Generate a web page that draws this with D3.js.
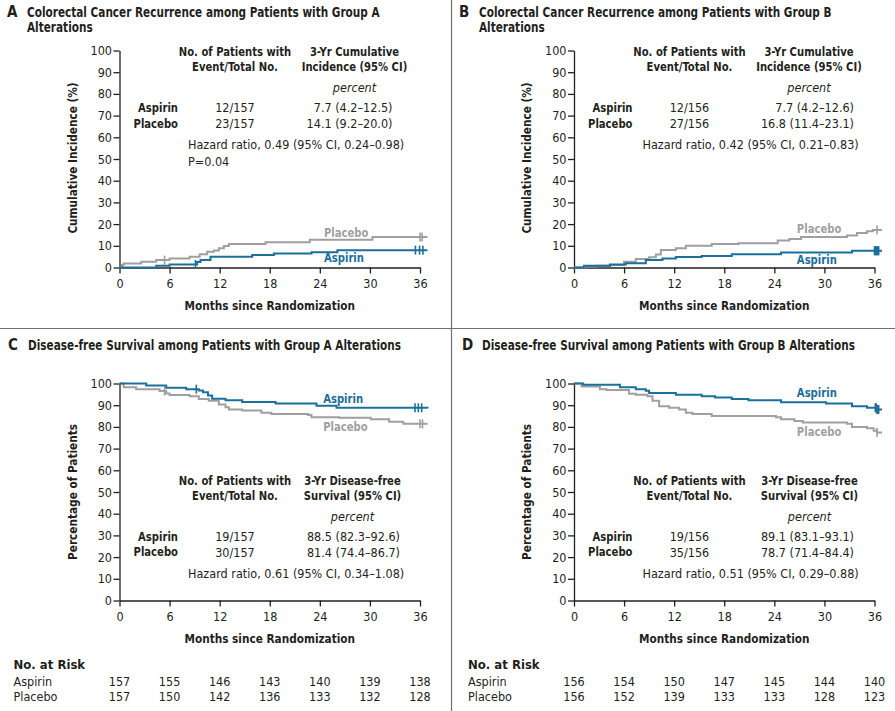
<html>
<head>
<script src="https://cdn.jsdelivr.net/npm/d3@7"></script>
<style>
  body { margin: 0; background: #fff; }
  text { font-family: "Liberation Sans Narrow", "DejaVu Sans Condensed", sans-serif; fill: #231f20; }
</style>
</head>
<body>
<script>
// ticks
var monthTicks = [0, 6, 12, 18, 24, 30, 36];
var pctTicks = [0, 10, 20, 30, 40, 50, 60, 70, 80, 90, 100];

// A: recurrence, group A  [month, cumulative incidence %]
var aPlacebo = [[0,0],[0.3,1.1],[0.5,1.9],[2.6,2.7],[4.4,3.4],[6.0,4.2],[8.4,5.0],[9.6,6.1],[10.5,7.3],[11.3,7.8],[11.9,8.9],[12.5,9.9],[13.1,10.8],[17.5,11.6],[22.8,12.8],[30.3,14.1],[36.9,14.1]];
var aAspirin = [[0,0],[4.4,0.8],[6.0,1.4],[9.3,2.5],[9.7,3.4],[10.9,5.0],[15.9,5.8],[18.5,6.4],[23.0,7.0],[26.1,8.0],[36.9,8.0]];
var aPlaceboCens = [5.4, 36.0, 36.25];
var aAspirinCens = [9.1, 35.45, 35.95, 36.35];

// B: recurrence, group B
var bPlacebo = [[0,0],[1.3,0.5],[2.7,0.8],[4.3,1.1],[6.0,2.7],[7.4,3.9],[9.0,4.7],[9.8,6.0],[10.4,8.1],[12.2,8.9],[13.4,10.0],[16.5,10.8],[19.7,11.2],[24.4,12.5],[25.8,13.1],[27.2,14.1],[32.7,14.8],[33.9,15.9],[35.1,16.7],[35.8,17.3],[36.9,17.3]];
var bAspirin = [[0,0],[1.2,0.8],[4.3,1.4],[6.2,2.0],[8.6,3.4],[10.6,4.2],[12.2,4.8],[15.3,5.3],[18.9,6.1],[24.8,6.9],[33.3,7.7],[36.9,7.7]];
var bPlaceboCens = [36.3];
var bAspirinCens = [36.0, 36.1, 36.2, 36.3, 36.4, 36.5];

// C: disease-free survival, group A  [month, % of patients]
var cAspirin = [[0,100],[3.2,99.1],[5.6,98.0],[8.0,97.4],[9.5,96.8],[10.0,96.0],[10.6,94.5],[11.1,93.0],[12.7,92.3],[14.7,91.5],[18.7,90.8],[23.6,89.7],[26.0,88.8],[36.9,88.5]];
var cPlacebo = [[0,100],[0.5,98.3],[2.0,97.4],[4.8,96.5],[5.6,95.4],[6.0,94.7],[8.4,94.1],[9.5,92.9],[10.7,92.1],[11.9,90.3],[12.7,89.0],[13.1,88.0],[14.7,87.6],[17.0,86.5],[18.2,85.9],[22.6,85.5],[23.0,84.5],[26.3,84.2],[30.1,83.5],[32.3,82.4],[34.0,81.4],[36.9,81.4]];
var cAspirinCens = [9.2, 35.4, 35.8, 36.2];
var cPlaceboCens = [5.4, 36.0, 36.3];

// D: disease-free survival, group B
var dAspirin = [[0,100],[1.1,99.4],[5.5,98.3],[7.4,97.4],[8.6,96.7],[9.0,95.6],[12.2,94.8],[15.3,94.1],[16.9,93.6],[18.9,92.9],[20.9,92.3],[24.8,91.4],[30.2,90.8],[33.3,89.5],[35.1,88.8],[36.3,88.0],[36.9,88.0]];
var dPlacebo = [[0,100],[0.9,98.6],[3.1,97.4],[3.9,97.0],[6.6,95.3],[7.4,94.8],[8.8,94.1],[9.4,92.0],[10.2,89.5],[11.4,88.8],[12.6,88.0],[13.4,86.5],[14.2,86.0],[16.5,85.0],[24.2,84.5],[24.8,83.5],[26.4,82.7],[27.4,82.0],[32.7,81.5],[33.3,80.0],[35.1,79.4],[35.9,78.2],[36.3,77.4],[36.9,77.4]];
var dAspirinCens = [36.1, 36.2, 36.3, 36.4, 36.5];
var dPlaceboCens = [36.3];

// numbers at risk
var riskCAspirin = [157, 155, 146, 143, 140, 139, 138];
var riskCPlacebo = [157, 150, 142, 136, 133, 132, 128];
var riskDAspirin = [156, 154, 150, 147, 145, 144, 140];
var riskDPlacebo = [156, 152, 139, 133, 133, 128, 123];

// inset tables
var aStats = { events: ["12/157", "23/157"], est: ["7.7 (4.2\u201312.5)", "14.1 (9.2\u201320.0)"], hr: "Hazard ratio, 0.49 (95% CI, 0.24\u20130.98)", p: "P=0.04" };
var bStats = { events: ["12/156", "27/156"], est: ["7.7 (4.2\u201312.6)", "16.8 (11.4\u201323.1)"], hr: "Hazard ratio, 0.42 (95% CI, 0.21\u20130.83)", p: null };
var cStats = { events: ["19/157", "30/157"], est: ["88.5 (82.3\u201392.6)", "81.4 (74.4\u201386.7)"], hr: "Hazard ratio, 0.61 (95% CI, 0.34\u20131.08)", p: null };
var dStats = { events: ["19/156", "35/156"], est: ["89.1 (83.1\u201393.1)", "78.7 (71.4\u201384.4)"], hr: "Hazard ratio, 0.51 (95% CI, 0.29\u20130.88)", p: null };

var blue = "#1a6f9b", grey = "#9f9f9f", ink = "#231f20";

var svg = d3.select("body").append("svg")
    .attr("width", 895)
    .attr("height", 711);

// panel dividers
svg.append("line").attr("x1", 451.5).attr("x2", 451.5).attr("y1", 0).attr("y2", 711)
    .attr("stroke", "#6e6e6e").attr("stroke-width", 1.2);
svg.append("line").attr("x1", 0).attr("x2", 895).attr("y1", 328.5).attr("y2", 328.5)
    .attr("stroke", "#6e6e6e").attr("stroke-width", 1.2);

// the bold condensed fallback font is wider than the original, so squeeze it
// horizontally around its anchor point
function squeeze(el, k) {
    var x = +el.attr("x") || 0, y = +el.attr("y") || 0;
    var t = el.attr("transform");
    if (t) {
        el.attr("transform", t + " scale(" + k + ",1)");
    } else {
        el.attr("transform", "translate(" + x + "," + y + ") scale(" + k + ",1) translate(" + (-x) + "," + (-y) + ")");
    }
    return el;
}

function stepValue(series, t) {
    var v = series[0][1];
    series.forEach(function(d) { if (d[0] <= t) v = d[1]; });
    return v;
}

function drawPanel(p) {
    var x = d3.scaleLinear().domain([0, 36]).range([p.x0, p.x0 + 300.5]);
    var y = d3.scaleLinear().domain([0, 100]).range([p.yb, p.yb - 217]);

    // title
    svg.append("text").attr("x", p.tx - 20).attr("y", p.ty)
        .style("font-size", "15px").style("font-weight", "bold").text(p.letter);
    p.title.forEach(function(t, i) {
        squeeze(svg.append("text").attr("x", p.tx).attr("y", p.ty + i * 15.5)
            .style("font-size", "14px").style("font-weight", "bold").text(t), 0.835);
    });

    // axes
    var gx = svg.append("g").attr("transform", "translate(0," + p.yb + ")")
        .call(d3.axisBottom(x).tickValues(monthTicks).tickSize(6).tickPadding(6).tickSizeOuter(0));
    var gy = svg.append("g").attr("transform", "translate(" + p.x0 + ",0)")
        .call(d3.axisLeft(y).tickValues(pctTicks).tickSize(6).tickPadding(1.5).tickSizeOuter(0));
    [gx, gy].forEach(function(g) {
        g.attr("font-family", null).attr("font-size", null);
        g.selectAll("path, line").attr("stroke", ink).attr("stroke-width", 1.3);
        g.selectAll("text").style("font-size", "12.5px").attr("fill", ink);
    });

    // axis titles
    squeeze(svg.append("text").attr("text-anchor", "middle")
        .attr("x", x(18)).attr("y", p.yb + 43)
        .style("font-size", "13px").style("font-weight", "bold").text("Months since Randomization"), 0.9);
    squeeze(svg.append("text").attr("text-anchor", "middle")
        .attr("transform", "translate(" + (p.x0 - 43) + "," + p.ylabY + ") rotate(-90)")
        .style("font-size", "13px").style("font-weight", "bold").text(p.ylabel), 0.9);

    // curves
    var line = d3.line().curve(d3.curveStepAfter)
        .x(function(d) { return x(d[0]); })
        .y(function(d) { return y(d[1]); });
    [[p.placebo, p.placeboCens, grey], [p.aspirin, p.aspirinCens, blue]].forEach(function(s) {
        svg.append("path").datum(s[0]).attr("d", line)
            .attr("fill", "none").attr("stroke", s[2]).attr("stroke-width", 2);
        svg.append("g").selectAll("line").data(s[1]).enter().append("line")
            .attr("x1", function(t) { return x(t); })
            .attr("x2", function(t) { return x(t); })
            .attr("y1", function(t) { return y(stepValue(s[0], t)) - 4.5; })
            .attr("y2", function(t) { return y(stepValue(s[0], t)) + 4.5; })
            .attr("stroke", s[2]).attr("stroke-width", 1.6);
    });

    // curve labels
    squeeze(svg.append("text").attr("x", x(p.lab[0])).attr("y", y(p.lab[1]))
        .style("fill", blue)
        .style("font-size", "13px").style("font-weight", "bold").text("Aspirin"), 0.86);
    squeeze(svg.append("text").attr("x", x(p.lab[0])).attr("y", y(p.lab[2]))
        .style("fill", grey)
        .style("font-size", "13px").style("font-weight", "bold").text("Placebo"), 0.86);

    // inset table
    var t0 = p.tableY, c1 = p.x0 + 115.5, c2 = p.x0 + p.c2h;
    function txt(xx, yy, s, anchor, opts) {
        var el = svg.append("text").attr("x", xx).attr("y", yy + 4.3)
            .attr("text-anchor", anchor).style("font-size", "12.5px").text(s);
        if (opts === "b") squeeze(el.style("font-weight", "bold").style("font-size", "13px"), 0.86);
        if (opts === "i") el.style("font-style", "italic");
        return el;
    }
    txt(c1, t0, "No. of Patients with", "middle", "b");
    txt(c1, t0 + 15, "Event/Total No.", "middle", "b");
    txt(c2, t0, p.head2[0], "middle", "b");
    txt(c2, t0 + 15, p.head2[1], "middle", "b");
    txt(c2, t0 + 36, "percent", "middle", "i");
    ["Aspirin", "Placebo"].forEach(function(g, i) {
        var yy = t0 + 56 + i * 15.5;
        txt(p.x0 + 58.5, yy, g, "end", "b");
        txt(c1, yy, p.stats.events[i], "middle");
        txt(p.x0 + p.c2e, yy, p.stats.est[i], "end");
    });
    txt(p.x0 + 68.5, t0 + 93, p.stats.hr, "start");
    if (p.stats.p) txt(p.x0 + 68.5, t0 + 110, p.stats.p, "start");

    // numbers at risk
    if (p.risk) {
        svg.append("text").attr("x", p.x0 - 106).attr("y", 669)
            .style("font-size", "13px").style("font-weight", "bold").text("No. at Risk");
        ["Aspirin", "Placebo"].forEach(function(g, i) {
            var yy = 686 + i * 15.3;
            svg.append("text").attr("x", p.x0 - 106).attr("y", yy)
                .style("font-size", "12.5px").text(g);
            svg.append("g").selectAll("text").data(p.risk[i]).enter().append("text")
                .attr("x", function(d, j) { return x(monthTicks[j]); })
                .attr("y", yy).attr("text-anchor", "middle")
                .style("font-size", "12.5px").text(function(d) { return d; });
        });
    }
}

drawPanel({ letter: "A", title: ["Colorectal Cancer Recurrence among Patients with Group A", "Alterations"],
    tx: 27, ty: 17, x0: 119.5, yb: 267.5, ylabel: "Cumulative Incidence (%)", ylabY: 158,
    placebo: aPlacebo, aspirin: aAspirin, placeboCens: aPlaceboCens, aspirinCens: aAspirinCens,
    lab: [24.5, 2.4, 14], tableY: 52, head2: ["3-Yr Cumulative", "Incidence (95% CI)"], c2h: 235, c2e: 273, stats: aStats });
drawPanel({ letter: "B", title: ["Colorectal Cancer Recurrence among Patients with Group B", "Alterations"],
    tx: 479, ty: 17, x0: 574, yb: 267.5, ylabel: "Cumulative Incidence (%)", ylabY: 158,
    placebo: bPlacebo, aspirin: bAspirin, placeboCens: bPlaceboCens, aspirinCens: bAspirinCens,
    lab: [26.7, 1.5, 15.8], tableY: 52, head2: ["3-Yr Cumulative", "Incidence (95% CI)"], c2h: 235, c2e: 280, stats: bStats });
drawPanel({ letter: "C", title: ["Disease-free Survival among Patients with Group A Alterations"],
    tx: 28, ty: 350, x0: 119.5, yb: 600.5, ylabel: "Percentage of Patients", ylabY: 492,
    placebo: cPlacebo, aspirin: cAspirin, placeboCens: cPlaceboCens, aspirinCens: cAspirinCens,
    lab: [24.4, 91.1, 78.2], tableY: 480.7, head2: ["3-Yr Disease-free", "Survival (95% CI)"], c2h: 233, c2e: 280.5, stats: cStats,
    risk: [riskCAspirin, riskCPlacebo] });
drawPanel({ letter: "D", title: ["Disease-free Survival among Patients with Group B Alterations"],
    tx: 482, ty: 350, x0: 574, yb: 600.5, ylabel: "Percentage of Patients", ylabY: 492,
    placebo: dPlacebo, aspirin: dAspirin, placeboCens: dPlaceboCens, aspirinCens: dAspirinCens,
    lab: [26.7, 93.9, 75.9], tableY: 480.7, head2: ["3-Yr Disease-free", "Survival (95% CI)"], c2h: 235.5, c2e: 280, stats: dStats,
    risk: [riskDAspirin, riskDPlacebo] });
</script>
</body>
</html>
